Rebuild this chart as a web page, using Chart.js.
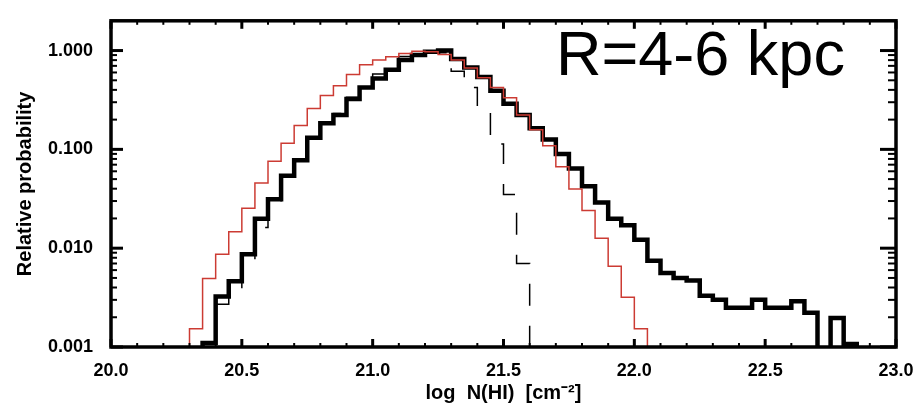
<!DOCTYPE html>
<html>
<head>
<meta charset="utf-8">
<script src="https://cdn.jsdelivr.net/npm/chart.js@4.4.1/dist/chart.umd.min.js"></script>
<style>
  html, body { margin: 0; padding: 0; background: #fff; }
  #wrap { position: relative; width: 922px; height: 409px; }
  #region-label {
    position: absolute; left: 556px; top: 22px;
    font-family: "Liberation Sans", Arial, sans-serif;
    font-size: 63px; line-height: 1; color: #000; white-space: nowrap;
  }
</style>
</head>
<body>
<div id="wrap">
  <canvas id="chart" width="922" height="409"></canvas>
  <div id="region-label">R=4-6 kpc</div>
</div>
<script>
// left edges of the 0.05 dex bins in log N(HI)
const logNHI = [
  20.25, 20.30, 20.35, 20.40, 20.45, 20.50, 20.55, 20.60, 20.65, 20.70,
  20.75, 20.80, 20.85, 20.90, 20.95, 21.00, 21.05, 21.10, 21.15, 21.20,
  21.25, 21.30, 21.35, 21.40, 21.45, 21.50, 21.55, 21.60, 21.65, 21.70,
  21.75, 21.80, 21.85, 21.90, 21.95, 22.00, 22.05, 22.10, 22.15, 22.20,
  22.25, 22.30, 22.35, 22.40, 22.45, 22.50, 22.55, 22.60, 22.65, 22.70,
  22.75, 22.80, 22.85
];

// thick black histogram
const observed = [
  null, 0, 0.0011, 0.00325, 0.00463, 0.00867, 0.0199, 0.0313, 0.0542, 0.0774,
  0.131, 0.184, 0.223, 0.324, 0.423, 0.52, 0.64, 0.80, 0.90, 0.97,
  1.0, 0.82, 0.675, 0.54, 0.393, 0.29, 0.223, 0.164, 0.126, 0.09,
  0.064, 0.0423, 0.029, 0.0199, 0.0171, 0.0122, 0.00745, 0.0056, 0.005, 0.0047,
  0.0033, 0.003, 0.0025, 0.0025, 0.003, 0.0025, 0.0025, 0.0029, 0.00222, 0,
  0.00196, 0.00107, 0
];

// thin dashed black histogram
const lognormal = [
  null, 0, 0.0011, 0.0027, 0.0039, 0.0072, 0.0162, 0.0286, 0.0518, 0.077,
  0.13, 0.184, 0.23, 0.337, 0.44, 0.58, 0.71, 0.87, 0.93, 0.97,
  0.95, 0.617, 0.423, 0.263, 0.113, 0.035, 0.007, 0, null, null,
  null, null, null, null, null, null, null, null, null, null,
  null, null, null, null, null, null, null, null, null, null,
  null, null, null
];

// thin red histogram
const comparison = [
  0, 0.00153, 0.00492, 0.00867, 0.0147, 0.0253, 0.0456, 0.0757, 0.115, 0.174,
  0.259, 0.350, 0.440, 0.572, 0.717, 0.80, 0.867, 0.934, 0.984, 0.97,
  0.913, 0.80, 0.665, 0.53, 0.423, 0.332, 0.223, 0.158, 0.109, 0.0665,
  0.0398, 0.024, 0.0126, 0.00655, 0.00318, 0.00153, 0, null, null, null,
  null, null, null, null, null, null, null, null, null, null,
  null, null, null
];

const yTickValues = [0.001, 0.01, 0.1, 1];
const X_MIN = 20, X_MAX = 23;
const Y_MIN = 0.001, Y_MAX = 2;
const Y_FLOOR = 1e-4; // empty bins sit below the axis on the log scale

const toPoints = (vals) => logNHI.map((x, i) => ({
  x: x,
  y: vals[i] === null ? null : (vals[i] === 0 ? Y_FLOOR : vals[i])
}));

const tickFont = { family: '"Liberation Sans", Arial, sans-serif', size: 18, weight: 'bold' };
const titleFont = { family: '"Liberation Sans", Arial, sans-serif', size: 20, weight: 'bold' };

// IDL style frame with inward ticks on all four sides
const frameTicks = {
    id: 'frameTicks',
    afterDatasetsDraw(chart) {
        const { ctx, chartArea: a, scales: { x, y } } = chart;
        const seg = (x1, y1, x2, y2) => { ctx.beginPath(); ctx.moveTo(x1, y1); ctx.lineTo(x2, y2); ctx.stroke(); };
        ctx.save();
        ctx.strokeStyle = '#000';
        for (let k = 0; k <= 30; k++) {
            const v = X_MIN + k * 0.1;
            const px = x.getPixelForValue(v);
            const major = k % 5 === 0;
            ctx.lineWidth = major ? 3 : 2;
            const len = major ? 8 : 4;
            seg(px, a.bottom, px, a.bottom - len);
            seg(px, a.top, px, a.top + len);
        }
        for (let d = -3; d <= 0; d++) {
            for (let m = 1; m <= 9; m++) {
                const v = m * Math.pow(10, d);
                if (v > Y_MAX + 1e-9) break;
                const py = y.getPixelForValue(v);
                const major = m === 1;
                ctx.lineWidth = major ? 3 : 2;
                seg(a.left, py, a.left + (major ? 12 : 6), py);
                seg(a.right, py, a.right - (major ? 16 : 8), py);
            }
        }
        ctx.lineWidth = 3.5;
        ctx.strokeRect(a.left, a.top, a.right - a.left, a.bottom - a.top);
        ctx.restore();
    }
};

new Chart(document.getElementById('chart'), {
    type: 'line',
    data: {
        datasets: [
            {
                label: 'comparison',
                data: toPoints(comparison),
                borderColor: '#cc3b33',
                borderWidth: 1.5,
                stepped: 'before',
                pointRadius: 0,
                fill: false
            },
            {
                label: 'lognormal',
                data: toPoints(lognormal),
                borderColor: '#000',
                borderWidth: 1.5,
                borderDash: [22, 20],
                stepped: 'before',
                pointRadius: 0,
                fill: false
            },
            {
                label: 'observed',
                data: toPoints(observed),
                borderColor: '#000',
                borderWidth: 4.5,
                stepped: 'before',
                pointRadius: 0,
                fill: false
            }
        ]
    },
    options: {
        responsive: false,
        animation: false,
        layout: { padding: { left: 0, right: 26, top: 11, bottom: 0 } },
        plugins: {
            legend: { display: false },
            tooltip: { enabled: false }
        },
        scales: {
            x: {
                type: 'linear',
                min: X_MIN,
                max: X_MAX,
                grid: { display: false },
                border: { display: false },
                ticks: {
                    stepSize: 0.5,
                    autoSkip: false,
                    maxRotation: 0,
                    padding: 5,
                    color: '#000',
                    font: tickFont,
                    callback: (v) => Number(v).toFixed(1)
                },
                title: {
                    display: true,
                    text: 'log  N(HI)  [cm\u207B\u00B2]',
                    color: '#000',
                    font: titleFont,
                    padding: { top: 0, bottom: 4 }
                },
                afterFit: (s) => { s.height = 62; }
            },
            y: {
                type: 'logarithmic',
                min: Y_MIN,
                max: Y_MAX,
                grid: { display: false },
                border: { display: false },
                afterBuildTicks: (s) => { s.ticks = yTickValues.map(v => ({ value: v })); },
                ticks: {
                    padding: 10,
                    color: '#000',
                    font: tickFont,
                    callback: (v) => Number(v).toFixed(3)
                },
                title: {
                    display: true,
                    text: 'Relative probability',
                    color: '#000',
                    font: titleFont,
                    padding: { top: 13, bottom: 0 }
                },
                afterFit: (s) => { s.width = 111; }
            }
        }
    },
    plugins: [frameTicks]
});
</script>
</body>
</html>
